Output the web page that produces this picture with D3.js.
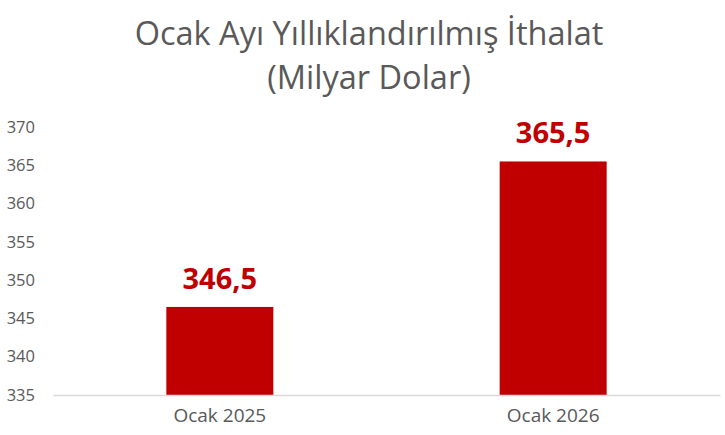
<!DOCTYPE html>
<html>
<head>
<meta charset="utf-8">
<script src="https://cdn.jsdelivr.net/npm/d3@7"></script>
<style>
  body { margin: 0; background: #fff; }
  svg text { font-family: "Open Sans", "Noto Sans", sans-serif; }
</style>
</head>
<body>
<svg id="chart" width="725" height="435"></svg>
<script>
// chart data
const categories = ["Ocak 2025", "Ocak 2026"];
const values = [346.5, 365.5];
const valueLabels = ["346,5", "365,5"];
const yTicks = [335, 340, 345, 350, 355, 360, 365, 370];
const titleLines = ["Ocak Ayı Yıllıklandırılmış İthalat", "(Milyar Dolar)"];

const svg = d3.select("#chart");
const textGrey = "#595959", barRed = "#C00000";

const x = d3.scaleBand().domain(categories).range([53, 720]).paddingInner(0.679).paddingOuter(0.34);
const y = d3.scaleLinear().domain([335, 370]).range([395, 127]);

// title
svg.selectAll(".title")
  .data(titleLines)
  .enter().append("text")
    .attr("class", "title")
    .attr("x", 369)
    .attr("y", (d, i) => 45 + i * 44)
    .attr("text-anchor", "middle")
    .style("font-size", "32.5px")
    .style("fill", textGrey)
    .text(d => d);

// y axis labels (no line, no ticks)
const yAxis = svg.append("g")
  .attr("transform", "translate(35,0)")
  .call(d3.axisLeft(y).tickValues(yTicks).tickSize(0).tickPadding(0));
yAxis.select(".domain").remove();
yAxis.selectAll("text")
  .style("font-size", "16.5px")
  .style("fill", textGrey)
  .style("font-family", "'Open Sans', sans-serif");

// bars
svg.selectAll(".bar")
  .data(values)
  .enter().append("rect")
    .attr("class", "bar")
    .attr("x", (d, i) => x(categories[i]))
    .attr("y", d => y(d))
    .attr("width", x.bandwidth())
    .attr("height", d => y(335) - y(d))
    .style("fill", barRed);

// x axis
const xAxis = svg.append("g")
  .attr("transform", "translate(0,395)")
  .call(d3.axisBottom(x).tickSize(0).tickPadding(14));
xAxis.select(".domain").attr("stroke", "#d9d9d9").attr("stroke-width", 1.5);
xAxis.selectAll("text")
  .style("font-size", "19px")
  .style("fill", textGrey)
  .style("font-family", "'Open Sans', sans-serif");

// value labels
svg.selectAll(".vlabel")
  .data(values)
  .enter().append("text")
    .attr("class", "vlabel")
    .attr("x", (d, i) => x(categories[i]) + x.bandwidth() / 2)
    .attr("y", d => y(d) - 18)
    .attr("text-anchor", "middle")
    .style("font-size", "29px")
    .style("font-weight", "bold")
    .style("fill", barRed)
    .text((d, i) => valueLabels[i]);
</script>
</body>
</html>
